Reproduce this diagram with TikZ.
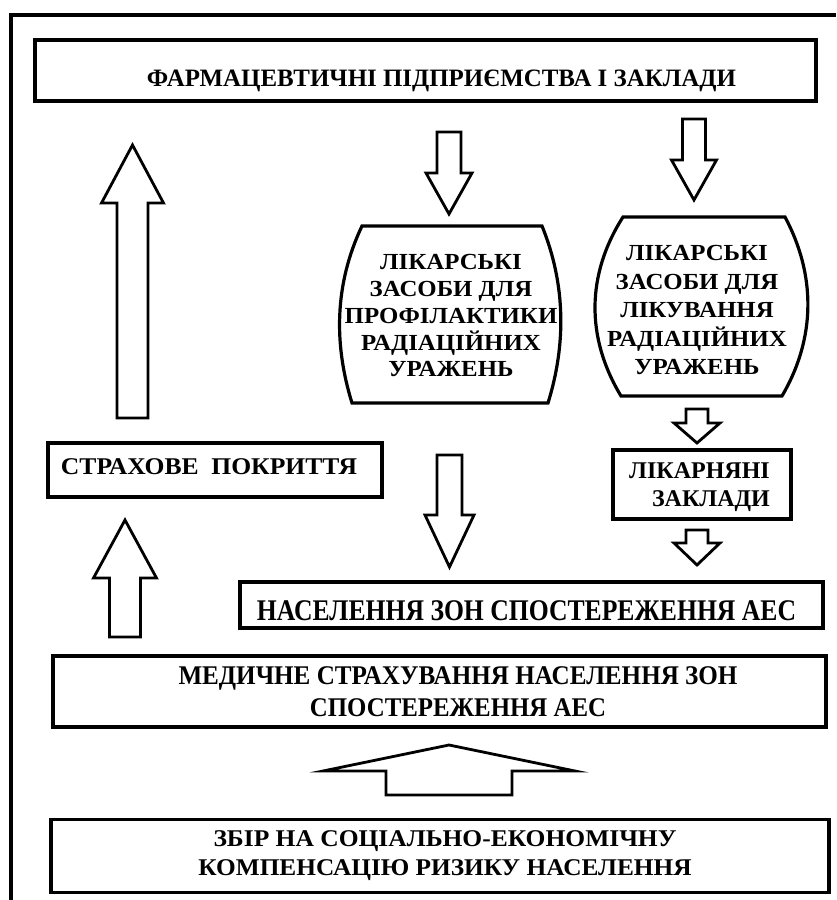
\documentclass[tikz,border=0pt]{standalone}
\usepackage{fontspec}
\setmainfont{Liberation Serif}
\newfontfamily\lensfont[FakeStretch=1.08]{Liberation Serif}
\usepackage{graphicx}
\newcommand{\fitto}[2]{\resizebox{#1}{\height}{#2}}
\newcommand{\blockarrow}[6]{% cx, tail y, head-base y, tip y, shaft half, head half
  \draw[blockarr] (#1-#5,#2) -- (#1-#5,#3) -- (#1-#6,#3) -- (#1,#4) -- (#1+#6,#3) -- (#1+#5,#3) -- (#1+#5,#2) -- cycle;}
\begin{document}
\begin{tikzpicture}[x=1pt,y=-1pt,
  box/.style={draw,line width=3.4pt,rectangle,inner sep=0pt},
  lens/.style={draw,line width=3.2pt,line join=miter},
  blockarr/.style={draw,line width=2.8pt,fill=white,line join=miter},
  txt/.style={inner sep=0pt,font=\bfseries}]
\useasboundingbox (0,0) rectangle (836,900);
\fill[white] (0,0) rectangle (836,900);
% outer frame
\draw[line width=4pt,line join=miter] (11.3,900) -- (11.3,14.5) -- (437,14.5);
\draw[line width=3.3pt] (437,15) -- (836,15);

% top box
\node[box,minimum width=781pt,minimum height=61pt] (pharma) at (425.5,70.5) {};
\node[txt,anchor=base,font=\bfseries\fontsize{25}{28}\selectfont] (pharmatxt) at (441.5,86) {\fitto{589pt}{ФАРМАЦЕВТИЧНІ ПІДПРИЄМСТВА І ЗАКЛАДИ}};

% lens 1
\coordinate (l1a) at (362,226);
\coordinate (l1b) at (542,226);
\coordinate (l1c) at (548,403);
\coordinate (l1d) at (352,403);
\draw[lens] (452,226) -- (l1b) .. controls (566,285) and (566,345) .. (l1c) -- (l1d) .. controls (334,345) and (334,285) .. (l1a) -- (452,226);
\node[txt,anchor=north,align=center,font=\lensfont\bfseries\fontsize{23}{26.75}\selectfont] (prev) at (451,254.5) {ЛІКАРСЬКІ\\ЗАСОБИ ДЛЯ\\ПРОФІЛАКТИКИ\\РАДІАЦІЙНИХ\\УРАЖЕНЬ};

% lens 2
\coordinate (l2a) at (623,217);
\coordinate (l2b) at (785,217);
\coordinate (l2c) at (782,396);
\coordinate (l2d) at (621,396);
\draw[lens] (704,217) -- (l2b) .. controls (816,275) and (816,338) .. (l2c) -- (l2d) .. controls (586,338) and (586,275) .. (l2a) -- (704,217);
\node[txt,anchor=north,align=center,font=\lensfont\bfseries\fontsize{23}{28.5}\selectfont] (treat) at (697,245.5) {ЛІКАРСЬКІ\\ЗАСОБИ ДЛЯ\\ЛІКУВАННЯ\\РАДІАЦІЙНИХ\\УРАЖЕНЬ};

% hospital box
\node[box,minimum width=178pt,minimum height=69pt] (hosp) at (702,484.5) {};
\node[txt,anchor=north east,align=right,font=\bfseries\fontsize{24}{28}\selectfont] (hosptxt) at (770,462) {ЛІКАРНЯНІ\\ЗАКЛАДИ};

% insurance coverage box
\node[box,minimum width=334pt,minimum height=54pt] (cover) at (215,470) {};
\node[txt,anchor=base,font=\bfseries\fontsize{24}{28}\selectfont] (covertxt) at (209,474) {\fitto{296pt}{СТРАХОВЕ\ \ ПОКРИТТЯ}};

% population box
\node[box,minimum width=583pt,minimum height=46pt] (popul) at (531.5,605) {};
\node[txt,anchor=base,font=\bfseries\fontsize{30}{32}\selectfont] (popultxt) at (526.5,620) {\fitto{539pt}{НАСЕЛЕННЯ ЗОН СПОСТЕРЕЖЕННЯ АЕС}};

% medical insurance box
\node[box,minimum width=773pt,minimum height=71pt] (medins) at (439.5,691.5) {};
\node[txt,anchor=north,align=center,font=\bfseries\fontsize{27}{32}\selectfont] (medinstxt) at (458,666) {\fitto{559pt}{МЕДИЧНЕ СТРАХУВАННЯ НАСЕЛЕННЯ ЗОН}\\\fitto{296pt}{СПОСТЕРЕЖЕННЯ АЕС}};

% levy box
\node[box,minimum width=778pt,minimum height=73pt] (levy) at (440,856) {};
\node[txt,anchor=north,align=center,font=\bfseries\fontsize{24}{29}\selectfont] (levytxt) at (445,830) {\fitto{463pt}{ЗБІР НА СОЦІАЛЬНО-ЕКОНОМІЧНУ}\\\fitto{493pt}{КОМПЕНСАЦІЮ РИЗИКУ НАСЕЛЕННЯ}};

% block arrows
\blockarrow{132.5}{418}{203}{145}{15.5}{31}
\blockarrow{125}{637}{578}{520}{15.5}{31.5}
\blockarrow{449}{132}{173}{214}{12}{23}
\blockarrow{694}{119}{160}{200}{11.5}{22.5}
\blockarrow{449.5}{455}{515}{567}{12.5}{24.5}
\blockarrow{697}{409}{423}{443}{11}{23}
\blockarrow{697}{530}{543}{565}{11}{23}
\blockarrow{449}{795}{771}{745}{63}{126}
\end{tikzpicture}
\end{document}
